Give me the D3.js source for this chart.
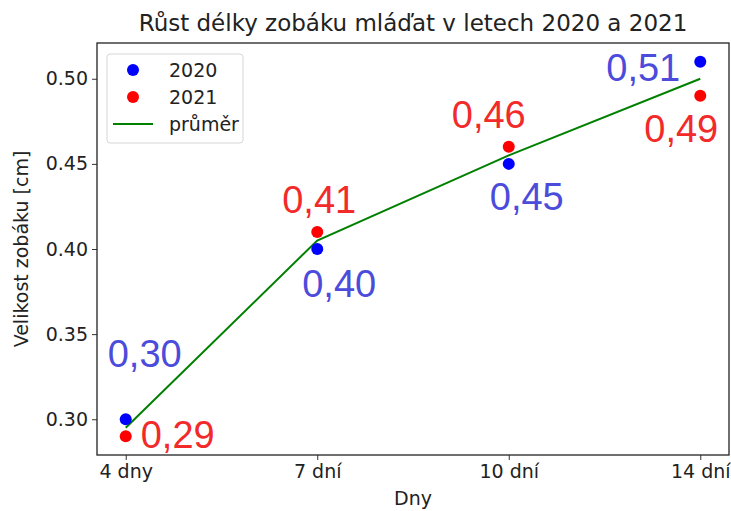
<!DOCTYPE html>
<html>
<head>
<meta charset="utf-8">
<script src="https://cdn.jsdelivr.net/npm/d3@7"></script>
<style>
  body { margin: 0; background: #fff; }
  text { font-family: "DejaVu Sans", sans-serif; }
</style>
</head>
<body>
<div id="chart"></div>
<script>
// data
const days = ["4 dny", "7 dní", "10 dní", "14 dní"];
const y2020 = [0.30, 0.40, 0.45, 0.51];
const y2021 = [0.29, 0.41, 0.46, 0.49];
const yTicks = [0.30, 0.35, 0.40, 0.45, 0.50];
const seriesNames = ["2020", "2021", "průměr"];
const mean = y2020.map((v, i) => (v + y2021[i]) / 2);

// label offsets in px (dx, dy of the text start/baseline from the point)
const off2020 = [[-18, -52], [-15, 48], [-19, 46], [-94, 19]];
const off2021 = [[15, 12], [-35, -19], [-57, -19], [-56, 46]];

const width = 731, height = 511;
const margin = {top: 43, right: 2, bottom: 56, left: 97};

const svg = d3.select("#chart").append("svg")
  .attr("width", width)
  .attr("height", height);

const x = d3.scaleLinear()
  .domain([-0.15, 3.15])
  .range([margin.left, width - margin.right]);

const y = d3.scaleLinear()
  .domain([0.279, 0.521])
  .range([height - margin.bottom, margin.top]);

// axes
const xAxis = svg.append("g")
  .attr("transform", `translate(0, ${height - margin.bottom})`)
  .call(d3.axisBottom(x).tickValues(d3.range(days.length)).tickFormat(i => days[i]).tickSize(5).tickPadding(5));
const yAxis = svg.append("g")
  .attr("transform", `translate(${margin.left}, 0)`)
  .call(d3.axisLeft(y).tickValues(yTicks).tickFormat(d3.format(".2f")).tickSize(5).tickPadding(4));
[xAxis, yAxis].forEach(g => {
  g.select(".domain").remove();
  g.selectAll("text").style("font-size", "19px").attr("fill", "#222");
  g.selectAll("line").attr("stroke", "#333");
});

// frame
svg.append("rect")
  .attr("x", margin.left)
  .attr("y", margin.top)
  .attr("width", width - margin.right - margin.left)
  .attr("height", height - margin.bottom - margin.top)
  .attr("fill", "none")
  .attr("stroke", "#222")
  .attr("stroke-width", 1.3);

// mean line
svg.append("path")
  .datum(mean)
  .attr("fill", "none")
  .attr("stroke", "green")
  .attr("stroke-width", 2)
  .attr("d", d3.line().x((d, i) => x(i)).y(d => y(d)));

// points
svg.append("g").selectAll("circle")
  .data(y2020)
  .join("circle")
  .attr("cx", (d, i) => x(i))
  .attr("cy", d => y(d))
  .attr("r", 6)
  .attr("fill", "blue");
svg.append("g").selectAll("circle")
  .data(y2021)
  .join("circle")
  .attr("cx", (d, i) => x(i))
  .attr("cy", d => y(d))
  .attr("r", 6)
  .attr("fill", "red");

// value labels
const fmt = d => d.toFixed(2).replace(".", ",");
function labels(data, offs, color) {
  svg.append("g").selectAll("text")
    .data(data)
    .join("text")
    .attr("x", (d, i) => x(i) + offs[i][0])
    .attr("y", (d, i) => y(d) + offs[i][1])
    .attr("fill", color)
    .style("font-family", "'Liberation Sans', Arial, sans-serif")
    .style("font-size", "38px")
    .text(fmt);
}
labels(y2020, off2020, "#4b4bdc");
labels(y2021, off2021, "#f22a2a");

// title and axis labels
svg.append("text")
  .attr("x", (margin.left + width - margin.right) / 2)
  .attr("y", 31)
  .attr("text-anchor", "middle")
  .style("font-size", "23px")
  .attr("fill", "#222")
  .text("Růst délky zobáku mláďat v letech 2020 a 2021");
svg.append("text")
  .attr("x", (margin.left + width - margin.right) / 2)
  .attr("y", 505)
  .attr("text-anchor", "middle")
  .style("font-size", "19px")
  .attr("fill", "#222")
  .text("Dny");
svg.append("text")
  .attr("transform", `translate(28, ${(margin.top + height - margin.bottom) / 2}) rotate(-90)`)
  .attr("text-anchor", "middle")
  .style("font-size", "19px")
  .attr("fill", "#222")
  .text("Velikost zobáku [cm]");

// legend
const lg = svg.append("g").attr("transform", "translate(107, 54)");
lg.append("rect")
  .attr("width", 136).attr("height", 89).attr("rx", 3)
  .attr("fill", "#fff").attr("fill-opacity", 0.8)
  .attr("stroke", "#d6d6d6");
const legendItems = [
  {name: seriesNames[0], type: "dot", color: "blue"},
  {name: seriesNames[1], type: "dot", color: "red"},
  {name: seriesNames[2], type: "line", color: "green"}
];
const li = lg.selectAll("g.item")
  .data(legendItems)
  .join("g")
  .attr("transform", (d, i) => `translate(0, ${16 + i * 27})`);
li.filter(d => d.type === "dot").append("circle")
  .attr("cx", 26).attr("r", 6).attr("fill", d => d.color);
li.filter(d => d.type === "line").append("line")
  .attr("x1", 6).attr("x2", 46)
  .attr("stroke", d => d.color).attr("stroke-width", 2);
li.append("text")
  .attr("x", 62).attr("dy", "0.35em")
  .style("font-size", "19px")
  .attr("fill", "#222")
  .text(d => d.name);
</script>
</body>
</html>
